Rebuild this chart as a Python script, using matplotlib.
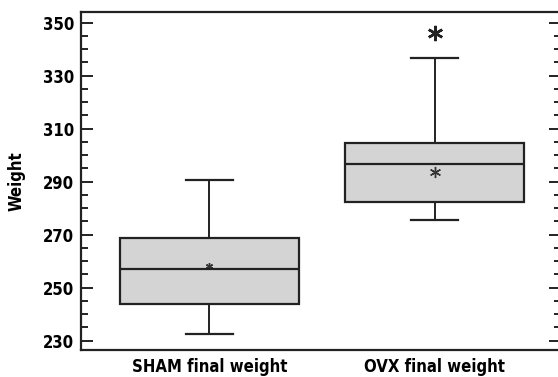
import matplotlib
matplotlib.use('Agg')
import matplotlib.pyplot as plt
from matplotlib.ticker import MultipleLocator

groups = ['SHAM final weight', 'OVX final weight']
whislo = [232.4, 275.5]
q1 = [243.8, 282.5]
med = [257.1, 296.6]
q3 = [268.8, 304.6]
whishi = [290.6, 336.7]
means = [258.3, 293.5]
mean_size = [5, 8]
sig_group = 2
sig_y = 346.1

plt.rcParams['font.family'] = ['DejaVu Sans']
plt.rcParams['font.stretch'] = 'condensed'
plt.rcParams['font.weight'] = 'bold'

fig = plt.figure(figsize=(5.58, 3.77), dpi=100)
ax = fig.add_axes([81 / 558, 27 / 377, 480 / 558, 338 / 377])

stats = []
for i in range(len(groups)):
    stats.append({'label': groups[i], 'whislo': whislo[i], 'q1': q1[i], 'med': med[i],
                  'q3': q3[i], 'whishi': whishi[i], 'fliers': []})

ax.bxp(stats, positions=[1, 2], widths=0.795, patch_artist=True, showfliers=False,
       boxprops=dict(facecolor='#d4d4d4', edgecolor='#222222', linewidth=1.6),
       medianprops=dict(color='#222222', linewidth=1.6),
       whiskerprops=dict(color='#222222', linewidth=1.4),
       capprops=dict(color='#222222', linewidth=1.6),
       capwidths=0.21)

# group means
for i in range(len(groups)):
    ax.plot(i + 1, means[i], marker=(6, 2, 0), color='#333333', markersize=mean_size[i],
            markeredgewidth=1.0, linestyle='none')

# significance mark
ax.plot(sig_group, sig_y, marker=(6, 2, 0), color='#222222', markersize=11,
        markeredgewidth=1.8, linestyle='none')

ax.set_xlim(0.429, 2.562)
ax.set_ylim(226.5, 354)
ax.yaxis.set_major_locator(MultipleLocator(20))
ax.yaxis.set_minor_locator(MultipleLocator(5))
ax.set_yticks([230, 250, 270, 290, 310, 330, 350])
ax.tick_params(axis='y', which='both', direction='in', left=True, right=True, labelsize=12,
               width=1.4, color='#222222', pad=5)
ax.tick_params(axis='y', which='major', length=8.5)
ax.tick_params(axis='y', which='minor', length=5)
ax.tick_params(axis='x', length=0, labelsize=12, pad=6)
ax.set_ylabel('Weight', fontsize=12, fontweight='bold', labelpad=12)
for sp in ax.spines.values():
    sp.set_linewidth(1.6)
    sp.set_color('#222222')

fig.savefig('out.png', dpi=100)
